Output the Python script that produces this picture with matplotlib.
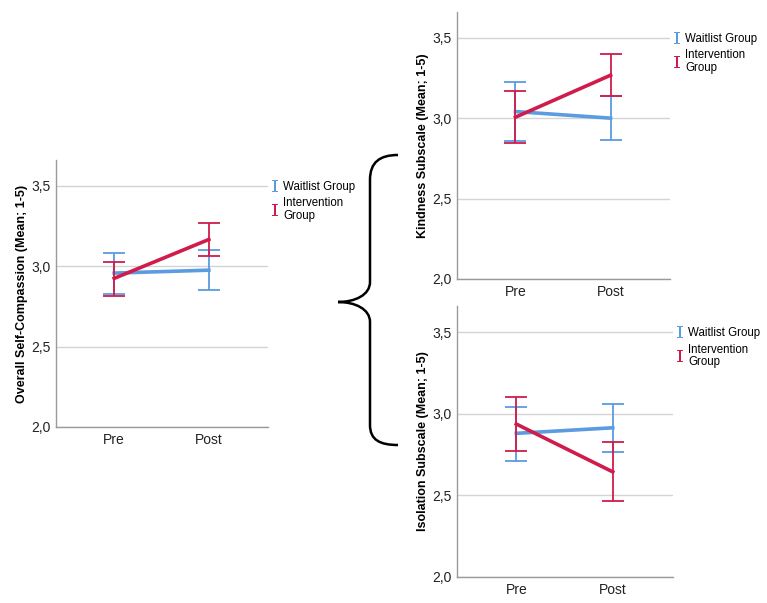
import matplotlib.pyplot as plt
from matplotlib.lines import Line2D
from matplotlib.path import Path
from matplotlib.patches import PathPatch

plt.rcParams['font.family'] = ['Liberation Sans', 'DejaVu Sans']

times = ['Pre', 'Post']
groups = ['Waitlist Group', 'Intervention\nGroup']
colors = ['#5b9be0', '#d01c4b']

# means and 95% CI bounds, [waitlist, intervention] x [pre, post]
overall_mean = [[2.957, 2.975], [2.924, 3.166]]
overall_low = [[2.830, 2.850], [2.816, 3.062]]
overall_high = [[3.083, 3.100], [3.027, 3.270]]

kind_mean = [[3.041, 3.000], [3.006, 3.267]]
kind_low = [[2.860, 2.864], [2.846, 3.140]]
kind_high = [[3.222, 3.136], [3.168, 3.400]]

iso_mean = [[2.880, 2.914], [2.937, 2.644]]
iso_low = [[2.712, 2.765], [2.770, 2.463]]
iso_high = [[3.043, 3.060], [3.104, 2.824]]

W, H = 767, 603
fig = plt.figure(figsize=(W / 100, H / 100), dpi=100)


def px_axes(x0, y0, x1, y1):
    return fig.add_axes([x0 / W, 1 - y1 / H, (x1 - x0) / W, (y1 - y0) / H])


def panel(ax, means, lows, highs, ylabel, leg_y):
    x = list(range(len(times)))
    handles = []
    for g in range(2):
        m = means[g]
        err = [[m[i] - lows[g][i] for i in x], [highs[g][i] - m[i] for i in x]]
        ax.plot(x, m, color=colors[g], lw=2.6, zorder=3 + g * 2)
        ax.errorbar(x, m, yerr=err, fmt='none', ecolor=colors[g],
                    elinewidth=1.3, capsize=8, capthick=1.3, zorder=2 + g * 2)
        handles.append(Line2D([], [], ls='none', marker=r'$\mathtt{I}$',
                              markersize=8.5, markeredgewidth=0, color=colors[g]))
    ax.set_xlim(-0.615, 1.625)
    ax.set_ylim(2.0, 3.66)
    ax.set_xticks(x)
    ax.set_xticklabels(times)
    ax.set_yticks([2.0, 2.5, 3.0, 3.5])
    ax.set_yticklabels(['2,0', '2,5', '3,0', '3,5'])
    ax.tick_params(length=0, labelsize=10, colors='#222222', pad=4)
    ax.grid(axis='y', color='#d4d4d4', lw=1.0)
    ax.set_axisbelow(True)
    for s in ['top', 'right']:
        ax.spines[s].set_visible(False)
    for s in ['left', 'bottom']:
        ax.spines[s].set_color('#9a9a9a')
        ax.spines[s].set_linewidth(1.0)
    ax.set_ylabel(ylabel, fontsize=9, fontweight='bold', labelpad=2)
    leg = ax.legend(handles, groups, loc='upper left', bbox_to_anchor=(1.0, leg_y),
                    frameon=False, fontsize=8.3, handlelength=0.6, handletextpad=0.4,
                    labelspacing=0.4, borderpad=0, borderaxespad=0.3)
    for t in leg.get_texts():
        t.set_linespacing(1.05)


ax1 = px_axes(56, 160, 268, 427)
panel(ax1, overall_mean, overall_low, overall_high,
      'Overall Self-Compassion (Mean; 1-5)', 0.935)

ax2 = px_axes(457, 12, 670, 279)
panel(ax2, kind_mean, kind_low, kind_high, 'Kindness Subscale (Mean; 1-5)', 0.935)

ax3 = px_axes(457, 306, 673, 577)
panel(ax3, iso_mean, iso_low, iso_high, 'Isolation Subscale (Mean; 1-5)', 0.935)

# curly brace linking the overall score to the two subscales
over = fig.add_axes([0, 0, 1, 1])
over.set_xlim(0, W)
over.set_ylim(H, 0)
over.axis('off')
verts = [(398, 155), (380, 155), (370, 162), (370, 180),
         (370, 282),
         (370, 295), (355, 302), (338, 302),
         (355, 302), (370, 309), (370, 322),
         (370, 425),
         (370, 440), (380, 445), (398, 445)]
codes = [Path.MOVETO, Path.CURVE4, Path.CURVE4, Path.CURVE4,
         Path.LINETO,
         Path.CURVE4, Path.CURVE4, Path.CURVE4,
         Path.CURVE4, Path.CURVE4, Path.CURVE4,
         Path.LINETO,
         Path.CURVE4, Path.CURVE4, Path.CURVE4]
over.add_patch(PathPatch(Path(verts, codes), fill=False, lw=1.8, color='black'))

fig.savefig('out.png', dpi=100)
